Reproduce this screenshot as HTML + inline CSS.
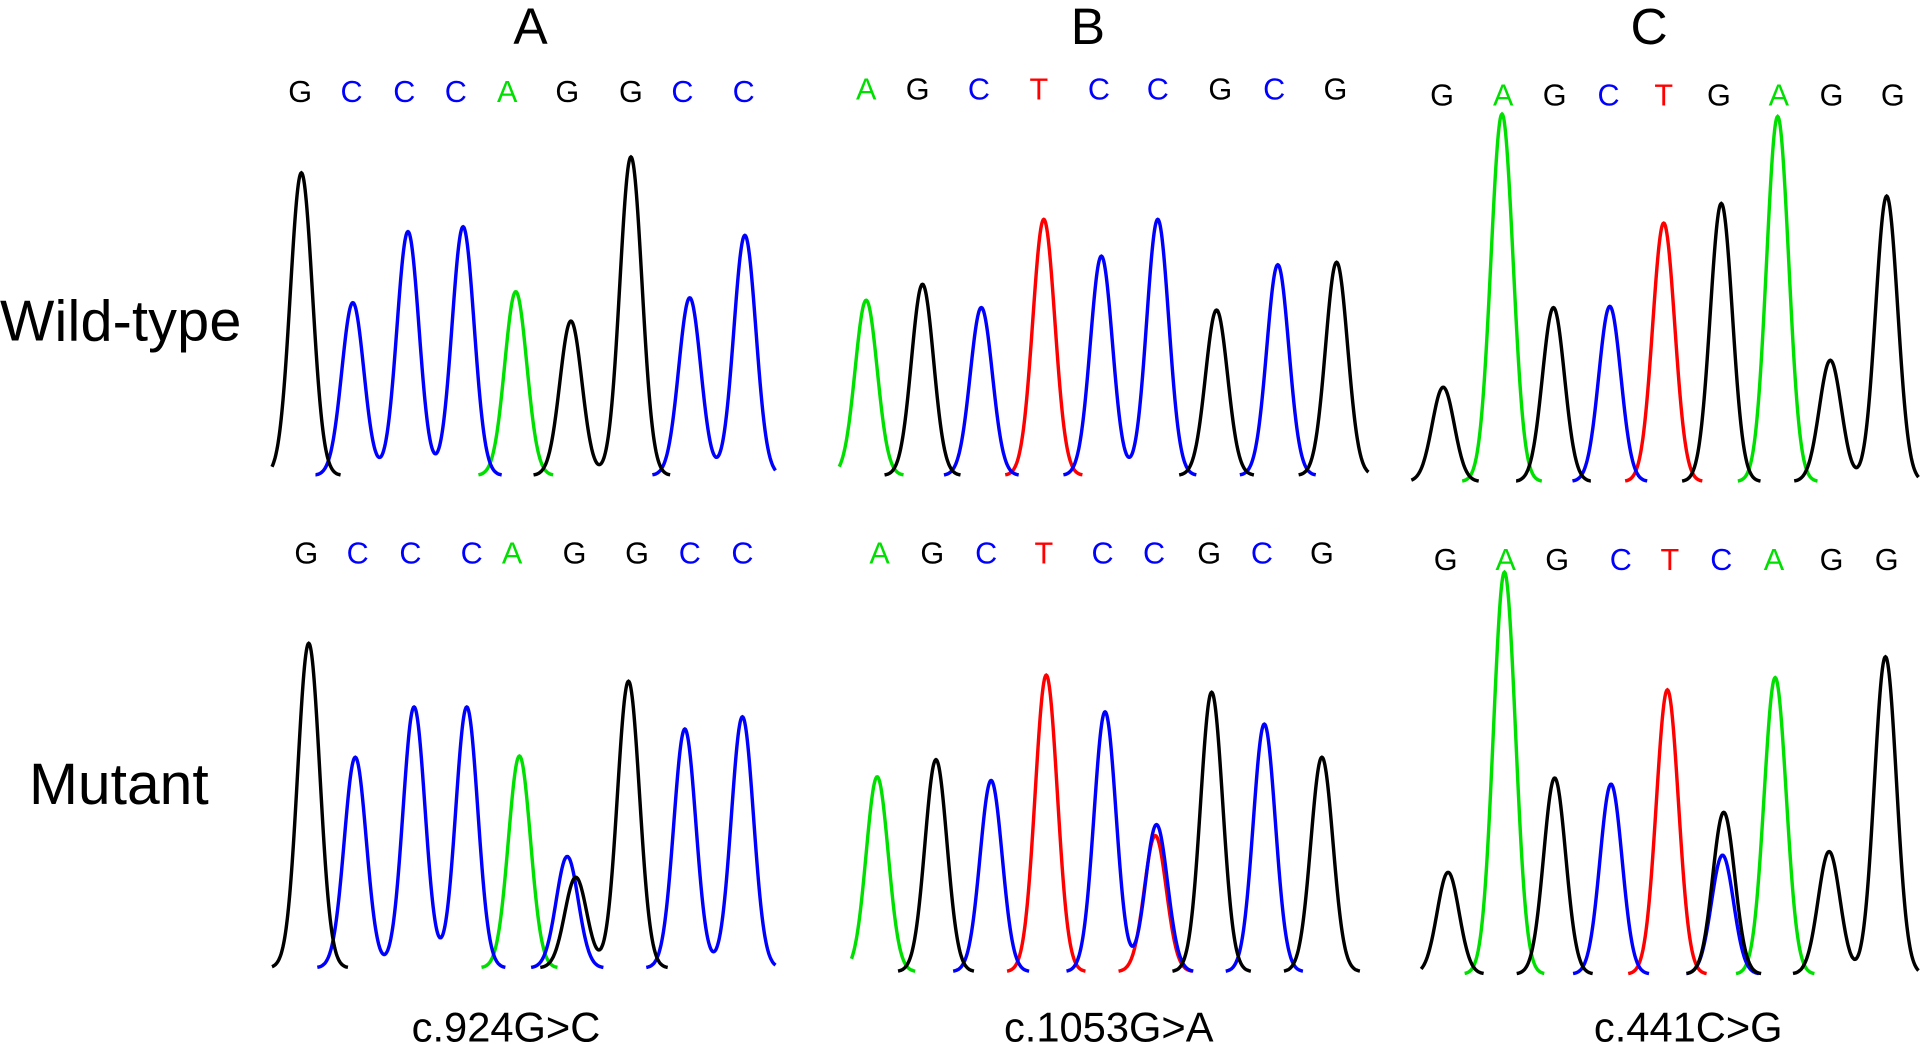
<!DOCTYPE html>
<html><head><meta charset="utf-8"><style>
html,body{margin:0;padding:0;background:#fff;}
svg{display:block;font-family:"Liberation Sans",sans-serif;}
</style></head><body>
<svg id="chart" width="1921" height="1044" viewBox="0 0 1568 852" xmlns="http://www.w3.org/2000/svg">
<g font-size="42" text-anchor="middle">
<text x="433" y="36">A</text>
<text x="888" y="36">B</text>
<text x="1346" y="36">C</text>
</g>
<text x="0" y="278" font-size="47" textLength="197">Wild-type</text>
<text x="97" y="656" font-size="48" text-anchor="middle">Mutant</text>
<g font-size="34" text-anchor="middle">
<text x="413" y="850">c.924G&gt;C</text>
<text x="905" y="850">c.1053G&gt;A</text>
<text x="1378" y="850">c.441C&gt;G</text>
</g>
<g id="traces"></g>
</svg>
<script>
const COL={G:'#000',C:'#0000ff',A:'#00e000',T:'#ff0000'};
const aTopBases=['G','C','C','C','A','G','G','C','C'];
const aTopLetterX=[245,287,330,372,414,463,515,557,607];
const aTopPeakX=[246,288,333,378,421,466,515,563,608];
const aTopPeakH=[247,141,199,203,150,126,260,145,196];
const aBotBases=['G','C','C','C','A','G','G','C','C'];
const aBotLetterX=[250,292,335,385,418,469,520,563,606];
const aBotPeakX=[252,290,338,381,424,470,513,559,606];
const aBotPeakH=[265,172,213,213,173,74,234,195,205];
const bTopBases=['A','G','C','T','C','C','G','C','G'];
const bTopLetterX=[707,749,799,848,897,945,996,1040,1090];
const bTopPeakX=[707,753,801,852,899,945,993,1043,1091];
const bTopPeakH=[143,156,137,209,179,209,135,172,174];
const bBotBases=['A','G','C','T','C','C','G','C','G'];
const bBotLetterX=[718,761,805,852,900,942,987,1030,1079];
const bBotPeakX=[716,764,809,854,902,944,989,1032,1079];
const bBotPeakH=[159,173,156,242,212,120,228,202,175];
const cTopBases=['G','A','G','C','T','G','A','G','G'];
const cTopLetterX=[1177,1227,1269,1313,1358,1403,1452,1495,1545];
const cTopPeakX=[1178,1226,1268,1314,1358,1405,1451,1494,1540];
const cTopPeakH=[77,300,142,143,211,227,298,99,233];
const cBotBases=['G','A','G','C','T','C','A','G','G'];
const cBotLetterX=[1180,1229,1271,1323,1363,1405,1448,1495,1540];
const cBotPeakX=[1182,1228,1269,1315,1361,1406,1449,1493,1539];
const cBotPeakH=[83,328,160,155,232,97,242,100,259];
const mixA=[{b:'C',x:463,h:91}];
const mixB=[{b:'T',x:943,h:111}];
const mixC=[{b:'G',x:1407,h:132}];
const panels=[
['a-wild-type',aTopBases,aTopLetterX,83,aTopPeakX,aTopPeakH,388,222,633,[]],
['a-mutant',aBotBases,aBotLetterX,460,aBotPeakX,aBotPeakH,790,222,633,mixA],
['b-wild-type',bTopBases,bTopLetterX,81,bTopPeakX,bTopPeakH,388,685,1117,[]],
['b-mutant',bBotBases,bBotLetterX,460,bBotPeakX,bBotPeakH,793,695,1117,mixB],
['c-wild-type',cTopBases,cTopLetterX,86,cTopPeakX,cTopPeakH,393,1152,1566,[]],
['c-mutant',cBotBases,cBotLetterX,465,cBotPeakX,cBotPeakH,795,1160,1566,mixC]
];
const NS='http://www.w3.org/2000/svg';
const root=document.getElementById('traces');
const SIG=9;
panels.forEach(p=>{
  const [name,bases,lx,ly,px,ph,base,x0,x1,extra]=p;
  const g=document.createElementNS(NS,'g');
  
  
  root.appendChild(g);
  bases.forEach((b,i)=>{
    const t=document.createElementNS(NS,'text');
    
    
    t.setAttribute('x',lx[i]);t.setAttribute('y',ly);
    t.setAttribute('font-size','25');t.setAttribute('text-anchor','middle');
    t.setAttribute('fill',COL[b]);t.textContent=b;g.appendChild(t);
  });
  const peaks=bases.map((b,i)=>({b:b,x:px[i],h:ph[i]})).concat(extra);
  ['T','A','C','G'].forEach(b=>{
    const ps=peaks.filter(q=>q.b===b);
    let d='';let pen=false;
    for(let x=x0;x<=x1;x+=0.5){
      let v=0;ps.forEach(q=>{v+=q.h*Math.exp(-((x-q.x)**2)/(2*SIG*SIG));});
      if(v<0.4){pen=false;continue;}
      d+=(pen?'L':'M')+x.toFixed(1)+' '+(base-v).toFixed(1);
      pen=true;
    }
    const path=document.createElementNS(NS,'path');
    
    
    path.setAttribute('d',d);path.setAttribute('fill','none');
    path.setAttribute('stroke',COL[b]);path.setAttribute('stroke-width','2.8');
    g.appendChild(path);
  });
});
</script>
</body></html>
